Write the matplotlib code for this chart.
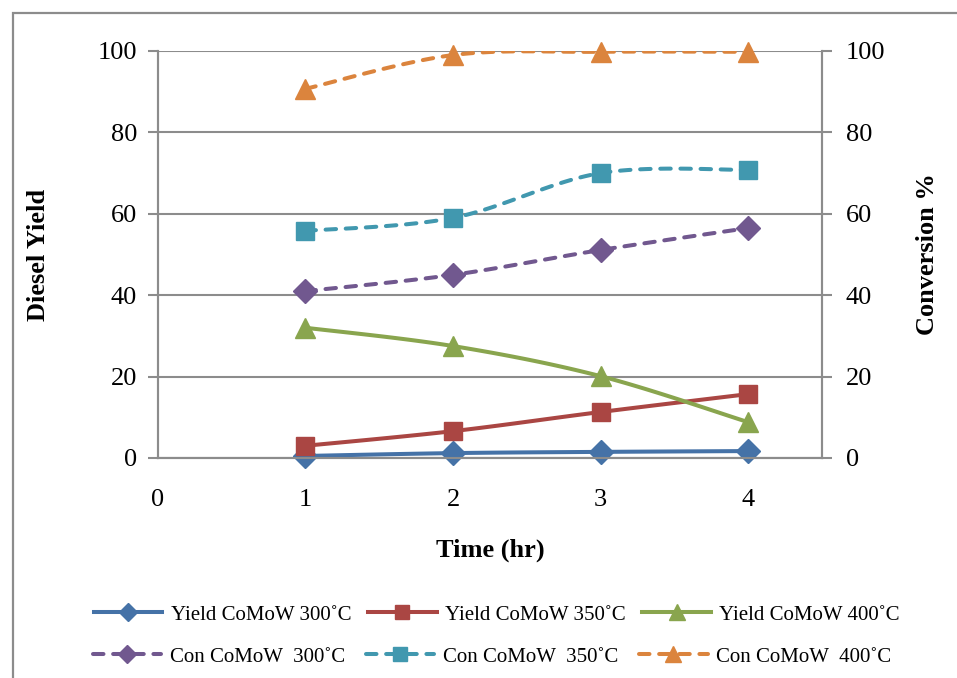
import numpy as np
import matplotlib
matplotlib.use("Agg")
import matplotlib.pyplot as plt
from matplotlib.lines import Line2D
from matplotlib.patches import Rectangle

plt.rcParams['font.family'] = ['Liberation Serif', 'DejaVu Serif']

time = [1, 2, 3, 4]
yield_300 = [0.5, 1.2, 1.5, 1.7]
yield_350 = [3.0, 6.6, 11.3, 15.7]
yield_400 = [32.0, 27.5, 20.1, 8.8]
con_300 = [41.0, 45.0, 51.1, 56.5]
con_350 = [55.8, 59.0, 70.0, 70.8]
con_400 = [90.7, 99.0, 99.8, 99.8]

labels_yield = ["Yield CoMoW 300˚C", "Yield CoMoW 350˚C", "Yield CoMoW 400˚C"]
labels_con = ["Con CoMoW  300˚C", "Con CoMoW  350˚C", "Con CoMoW  400˚C"]
xticks = [0, 1, 2, 3, 4]
yticks = [0, 20, 40, 60, 80, 100]

c_blue, c_red, c_green = "#4572A7", "#AA4643", "#89A54E"
c_purple, c_cyan, c_orange = "#71588F", "#4198AF", "#DB843D"


def smooth(xs, ys, n=30):
    """Catmull-Rom style smoothing like Excel's smoothed line (drawing only)."""
    P = np.column_stack([xs, ys]).astype(float)
    out = [P[0]]
    m = len(P)
    for i in range(m - 1):
        p0 = P[i - 1] if i > 0 else P[i]
        p1, p2 = P[i], P[i + 1]
        p3 = P[i + 2] if i + 2 < m else P[i + 1]
        c1 = p1 + (p2 - p0) / 6.0
        c2 = p2 - (p3 - p1) / 6.0
        t = np.linspace(0, 1, n)[1:, None]
        seg = ((1 - t) ** 3) * p1 + 3 * ((1 - t) ** 2) * t * c1 + 3 * (1 - t) * t ** 2 * c2 + t ** 3 * p2
        out.extend(seg)
    out = np.array(out)
    return out[:, 0], out[:, 1]


fig = plt.figure(figsize=(9.57, 6.78), dpi=100)
ax = fig.add_axes([0.165, 0.3245, 0.694, 0.6003])
ax2 = ax.twinx()

grid_c = "#8C8C8C"
lw = 2.9
dash = (0, (2.6, 2.4))
series = [
    (yield_300, c_blue, 'D', 12, '-', labels_yield[0]),
    (yield_350, c_red, 's', 13, '-', labels_yield[1]),
    (yield_400, c_green, '^', 14, '-', labels_yield[2]),
    (con_300, c_purple, 'D', 12, '--', labels_con[0]),
    (con_350, c_cyan, 's', 13, '--', labels_con[1]),
    (con_400, c_orange, '^', 14, '--', labels_con[2]),
]
handles = []
for vals, col, mk, ms, ls, lab in series:
    sx, sy = smooth(time, vals)
    if ls == '--':
        ax.plot(sx, sy, color=col, lw=lw, ls=dash, dash_capstyle='round', zorder=3)
    else:
        ax.plot(sx, sy, color=col, lw=lw, ls='-', solid_capstyle='round', zorder=3)
    ax.plot(time, vals, ls='none', marker=mk, ms=ms, color=col, mec=col, clip_on=False, zorder=4)
    h = Line2D([], [], color=col, lw=lw, ls=dash if ls == '--' else '-',
               marker=mk, ms=ms * 0.78, mec=col, dash_capstyle='round')
    handles.append(h)

ax.set_xlim(0, 4.5)
ax.set_ylim(0, 100)
ax2.set_ylim(0, 100)
ax.set_xticks(xticks)
ax.set_yticks(yticks)
ax2.set_yticks(yticks)
ax.yaxis.grid(True, color=grid_c, lw=1.5)
ax.set_axisbelow(True)

for a in (ax, ax2):
    a.spines['top'].set_visible(False)
    for s in ('left', 'right', 'bottom'):
        a.spines[s].set_color(grid_c)
        a.spines[s].set_linewidth(1.5)

ax.tick_params(axis='y', direction='out', length=7, width=1.5, color=grid_c, labelsize=19, pad=8)
ax2.tick_params(axis='y', direction='out', length=7, width=1.5, color=grid_c, labelsize=19, pad=10)
ax.tick_params(axis='x', length=0, labelsize=19, pad=22)

ax.set_xlabel("Time (hr)", fontsize=19, fontweight='bold', labelpad=20)
ax.set_ylabel("Diesel Yield", fontsize=19, fontweight='bold', labelpad=34)
ax2.set_ylabel("Conversion %", fontsize=19, fontweight='bold', labelpad=22)

leg1 = fig.legend(handles[:3], labels_yield, loc='center', bbox_to_anchor=(0.519, 0.093), ncol=3,
                  frameon=False, fontsize=15, handlelength=3.3, columnspacing=0.8, handletextpad=0.4)
leg2 = fig.legend(handles[3:], labels_con, loc='center', bbox_to_anchor=(0.514, 0.031), ncol=3,
                  frameon=False, fontsize=15, handlelength=3.3, columnspacing=1.0, handletextpad=0.4)

# outer chart frame
fig.patches.append(Rectangle((12.5 / 957, -0.1), 1.2, 1.1 - 13 / 678, transform=fig.transFigure,
                             fill=False, ec="#8C8C8C", lw=1.6, zorder=0))

fig.savefig("out.png", dpi=100)
